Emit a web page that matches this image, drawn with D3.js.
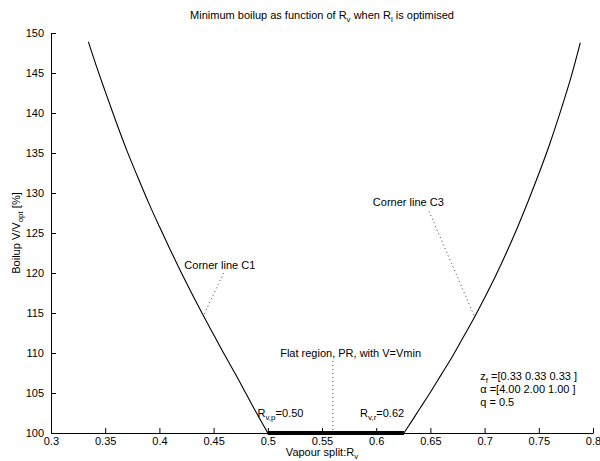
<!DOCTYPE html>
<html>
<head>
<meta charset="utf-8">
<script src="https://cdn.jsdelivr.net/npm/d3@7"></script>
<style>
  body { margin: 0; background: #fff; }
  svg { font-family: "Liberation Sans", Arial, Helvetica, sans-serif; }
</style>
</head>
<body>
<div id="chart"></div>
<script>
// left branch (corner line C1) : Rv -> boilup %
var leftRv = [0.3345, 0.34, 0.35, 0.36, 0.37, 0.38, 0.39, 0.40, 0.41, 0.42, 0.43, 0.44, 0.45, 0.46, 0.47, 0.48, 0.49, 0.5];
var leftV  = [148.9, 146.6, 142.7, 138.9, 135.3, 132.0, 128.8, 125.8, 122.9, 120.1, 117.4, 114.8, 112.3, 109.8, 107.4, 104.9, 102.4, 100.0];
// right branch (corner line C3)
var rightRv = [0.6256, 0.63, 0.64, 0.65, 0.66, 0.67, 0.68, 0.69, 0.70, 0.71, 0.72, 0.73, 0.74, 0.75, 0.76, 0.77, 0.78, 0.7883];
var rightV  = [100.0, 100.9, 103.0, 105.1, 107.3, 109.5, 111.9, 114.3, 116.9, 119.6, 122.5, 125.6, 128.9, 132.4, 136.1, 140.2, 144.6, 148.8];
// flat region PR, V = Vmin
var flatRv = [0.5, 0.6256];
var flatV = [100, 100];

var xTicks = [0.3, 0.35, 0.4, 0.45, 0.5, 0.55, 0.6, 0.65, 0.7, 0.75, 0.8];
var xTickLabels = ["0.3", "0.35", "0.4", "0.45", "0.5", "0.55", "0.6", "0.65", "0.7", "0.75", "0.8"];
var yTicks = [100, 105, 110, 115, 120, 125, 130, 135, 140, 145, 150];

var W = 600, H = 461,
    plotLeft = 51, plotRight = 593, plotTop = 33, plotBottom = 433;

var svg = d3.select("#chart").append("svg")
    .attr("width", W)
    .attr("height", H);

svg.append("rect").attr("width", W).attr("height", H).attr("fill", "#fff");

var x = d3.scaleLinear().domain([0.3, 0.8]).range([plotLeft, plotRight]);
var y = d3.scaleLinear().domain([100, 150]).range([plotBottom, plotTop]);

// axes, matlab style inward ticks
var xAxis = d3.axisBottom(x)
    .tickValues(xTicks)
    .tickFormat((d, i) => xTickLabels[i])
    .tickSizeInner(-5)
    .tickSizeOuter(0)
    .tickPadding(4);

var yAxis = d3.axisLeft(y)
    .tickValues(yTicks)
    .tickSizeInner(-5)
    .tickSizeOuter(0)
    .tickPadding(7);

var gx = svg.append("g")
    .attr("transform", "translate(0," + plotBottom + ")")
    .call(xAxis);
var gy = svg.append("g")
    .attr("transform", "translate(" + plotLeft + ",0)")
    .call(yAxis);

[gx, gy].forEach(g => {
  g.select(".domain").attr("stroke", "#000").attr("stroke-width", 1);
  g.selectAll(".tick line").attr("stroke", "#000");
  g.selectAll(".tick text").attr("fill", "#000").attr("font-size", 11)
      .attr("font-family", "'Liberation Sans', Arial, sans-serif");
});

// curves
var line = d3.line()
    .x(d => x(d[0]))
    .y(d => y(d[1]))
    .curve(d3.curveMonotoneX);

svg.append("path")
    .datum(leftRv.map((r, i) => [r, leftV[i]]))
    .attr("d", line)
    .attr("fill", "none")
    .attr("stroke", "#000")
    .attr("stroke-width", 1.1);

svg.append("path")
    .datum(rightRv.map((r, i) => [r, rightV[i]]))
    .attr("d", line)
    .attr("fill", "none")
    .attr("stroke", "#000")
    .attr("stroke-width", 1.1);

svg.append("path")
    .datum(flatRv.map((r, i) => [r, flatV[i]]))
    .attr("d", d3.line().x(d => x(d[0])).y(d => y(d[1])))
    .attr("fill", "none")
    .attr("stroke", "#000")
    .attr("stroke-width", 4);

// dotted pointer lines
var pointers = [
  [[0.4592, 120.0], [0.4408, 114.7]],
  [[0.6487, 127.7], [0.6909, 114.5]],
  [[0.56, 109.0], [0.56, 100.0]]
];
svg.selectAll("path.pointer")
    .data(pointers)
    .enter().append("path")
    .attr("class", "pointer")
    .attr("d", d3.line().x(d => x(d[0])).y(d => y(d[1])))
    .attr("fill", "none")
    .attr("stroke", "#444")
    .attr("stroke-width", 1)
    .attr("stroke-dasharray", "1,3");

// text with subscripts: parts = [[text, isSub], ...]
function richText(t, parts, size) {
  var wasSub = false;
  parts.forEach(p => {
    var sub = !!p[1];
    var dy = sub && !wasSub ? 2.5 : (!sub && wasSub ? -2.5 : 0);
    t.append("tspan")
        .attr("font-size", sub ? size - 3 : size)
        .attr("dy", dy)
        .text(p[0]);
    wasSub = sub;
  });
  return t;
}

function label(rv, v, parts) {
  var t = svg.append("text")
      .attr("x", x(rv))
      .attr("y", y(v) + 4)
      .attr("font-size", 11)
      .attr("fill", "#000");
  return richText(t, parts, 11);
}

label(0.423, 121.0, [["Corner line C1"]]);
label(0.5969, 128.9, [["Corner line C3"]]);
label(0.5114, 110.0, [["Flat region, PR, with V=Vmin"]]);
label(0.4905, 102.5, [["R"], ["v,p", 1], ["=0.50"]]);
label(0.5851, 102.5, [["R"], ["v,r", 1], ["=0.62"]]);
label(0.696, 107.1, [["z"], ["f", 1], [" =[0.33 0.33 0.33 ]"]]);
label(0.696, 105.45, [["\u03b1 =[4.00 2.00 1.00 ]"]]);
label(0.696, 103.9, [["q = 0.5"]]);

// title
var title = svg.append("text")
    .attr("x", (plotLeft + plotRight) / 2)
    .attr("y", 19)
    .attr("text-anchor", "middle")
    .attr("font-size", 11);
richText(title, [["Minimum boilup as function of R"], ["v", 1], [" when R"], ["l", 1], [" is optimised"]], 11);

// x label
var xl = svg.append("text")
    .attr("x", (plotLeft + plotRight) / 2)
    .attr("y", 456)
    .attr("text-anchor", "middle")
    .attr("font-size", 11);
richText(xl, [["Vapour split:R"], ["v", 1]], 11);

// y label
var yl = svg.append("text")
    .attr("transform", "translate(20," + (plotTop + plotBottom) / 2 + ") rotate(-90)")
    .attr("text-anchor", "middle")
    .attr("font-size", 11);
richText(yl, [["Boilup V/V"], ["opt", 1], [" [%]"]], 11);
</script>
</body>
</html>
